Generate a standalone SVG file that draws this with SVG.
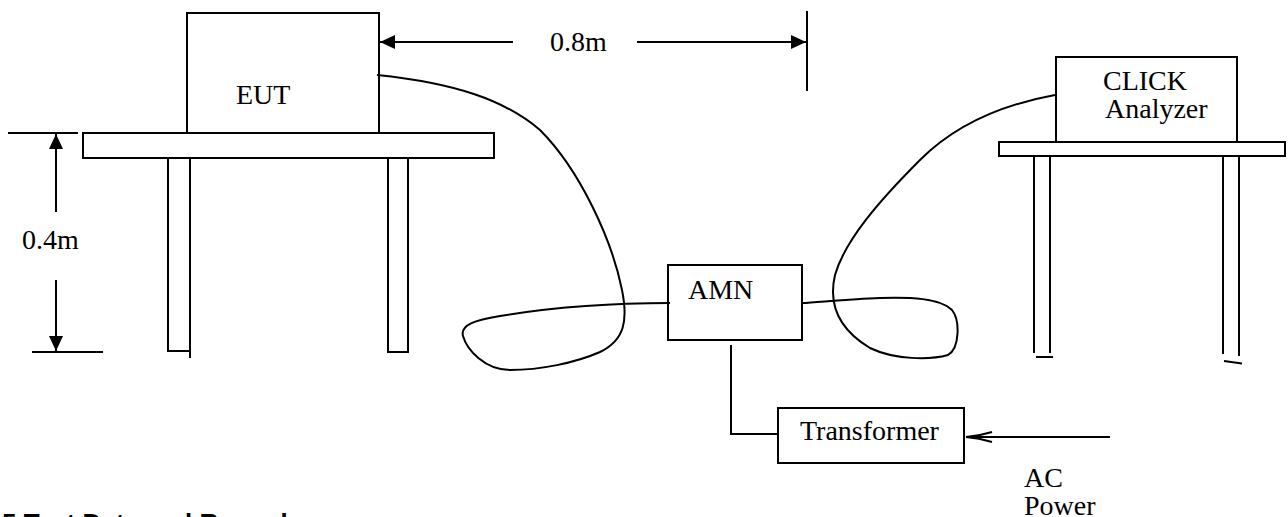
<svg xmlns="http://www.w3.org/2000/svg" width="1288" height="517" viewBox="0 0 1288 517">
  <style>
    .ln { fill: none; stroke: #000; stroke-width: 2; }
    .box { fill: #fff; stroke: #000; stroke-width: 2; }
    .lbl { font-family: "Liberation Serif", "Times New Roman", serif; font-size: 28px; fill: #000; }
    .hd { font-family: "Liberation Sans", Arial, sans-serif; font-size: 26px; font-weight: bold; fill: #000; }
  </style>
  <defs>
    <marker id="tri" viewBox="0 0 15 14" refX="15" refY="7" markerUnits="userSpaceOnUse" markerWidth="15" markerHeight="14" orient="auto">
      <path d="M0,0 L15,7 L0,14 z" fill="#000"/>
    </marker>
    <marker id="open" viewBox="0 0 28 14" refX="27" refY="7" markerUnits="userSpaceOnUse" markerWidth="28" markerHeight="14" orient="auto">
      <path d="M1,2 Q14,6 27,7 Q14,8 1,12" fill="none" stroke="#000" stroke-width="2"/>
    </marker>
  </defs>

  <rect width="1288" height="517" fill="#fff"/>

  <g id="table-left">
    <rect class="box" x="83" y="133" width="411" height="25"/>
    <path class="ln" d="M168,158 V351 H190 M190,158 V358"/>
    <path class="ln" d="M388,158 V352 H408 V158"/>
  </g>

  <g id="eut">
    <rect class="box" x="187" y="13" width="192" height="120"/>
    <text class="lbl" x="236" y="104">EUT</text>
  </g>

  <g id="table-right">
    <rect class="box" x="999" y="142" width="286" height="14"/>
    <path class="ln" d="M1034,156 V353 M1050,156 V353 M1036,357 H1053"/>
    <path class="ln" d="M1223,156 V354 M1239,156 V356 M1224,361 L1242,363.5"/>
  </g>

  <g id="click-analyzer">
    <rect class="box" x="1056" y="57" width="181" height="85"/>
    <text class="lbl" x="1103" y="90">CLICK</text>
    <text class="lbl" x="1105" y="118">Analyzer</text>
  </g>

  <g id="amn">
    <rect class="box" x="668" y="265" width="134" height="75"/>
    <text class="lbl" x="688" y="299">AMN</text>
  </g>

  <g id="transformer">
    <rect class="box" x="778" y="408" width="186" height="55"/>
    <text class="lbl" x="800" y="440">Transformer</text>
  </g>

  <g id="connectors">
    <!-- EUT cable to AMN -->
    <path class="ln" d="M377,75 C455,83 505,100 540,130 C580,170 612,240 622,290 C628,320 625,340 600,352 C575,363 540,370 510,370 C485,370 467,350 463,336 C460,325 475,320 500,316 C560,306 620,303 670,303"/>
    <!-- CLICK analyzer cable to AMN -->
    <path class="ln" d="M1055,95 C1000,105 955,125 920,160 C880,200 845,240 835,275 C828,305 840,330 870,348 C895,360 930,360 948,355 C960,348 960,320 952,310 C940,298 910,297 880,298 C850,299 820,302 802,303"/>
    <!-- AMN to transformer -->
    <path class="ln" d="M731,345 V434 H778"/>
    <!-- AC power in -->
    <line class="ln" x1="1110" y1="437" x2="966" y2="437" marker-end="url(#open)"/>
  </g>

  <g id="dimensions">
    <!-- 0.4m -->
    <line class="ln" x1="8" y1="133" x2="78" y2="133"/>
    <line class="ln" x1="32" y1="352" x2="103" y2="352"/>
    <line class="ln" x1="56" y1="212" x2="56" y2="134" marker-end="url(#tri)"/>
    <line class="ln" x1="56" y1="280" x2="56" y2="351" marker-end="url(#tri)"/>
    <text class="lbl" x="22" y="249">0.4m</text>
    <!-- 0.8m -->
    <line class="ln" x1="513" y1="42" x2="380" y2="42" marker-end="url(#tri)"/>
    <line class="ln" x1="637" y1="42" x2="806" y2="42" marker-end="url(#tri)"/>
    <line class="ln" x1="807" y1="11" x2="807" y2="91"/>
    <text class="lbl" x="550" y="51">0.8m</text>
  </g>

  <g id="ac-power-label">
    <text class="lbl" x="1024" y="487">AC</text>
    <text class="lbl" x="1024" y="515">Power</text>
  </g>

  <text class="hd" x="2" y="532">5 Test Data and Remarks</text>
</svg>
